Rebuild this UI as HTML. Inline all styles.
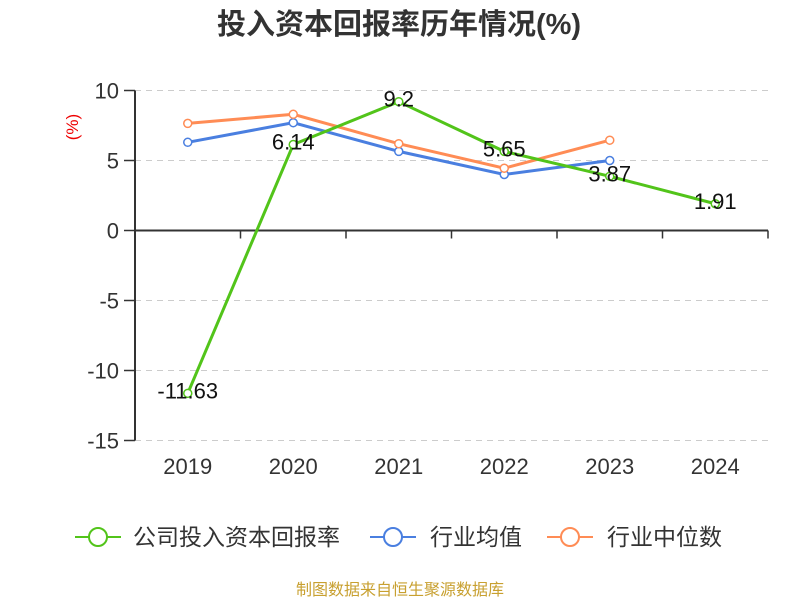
<!DOCTYPE html>
<html><head><meta charset="utf-8"><style>
body{margin:0;background:#fff;}
svg{display:block;font-family:"Liberation Sans","Noto Sans CJK SC",sans-serif;}
</style></head><body>
<svg id="c" width="800" height="600">
<text x="399" y="34" text-anchor="middle" font-size="29" font-weight="bold" fill="#333">投入资本回报率历年情况(%)</text>
<text x="78" y="127" text-anchor="middle" font-size="17" fill="#e00" transform="rotate(-90 78 127)">(%)</text>
<g id="grid"></g><g id="axes"></g><g id="series"></g>
<g font-size="23" fill="#333">
<g><line x1="75" y1="537" x2="121" y2="537" stroke="#52c41a" stroke-width="2"/><circle cx="98" cy="537" r="9" fill="#fff" stroke="#52c41a" stroke-width="2"/><text x="133" y="545">公司投入资本回报率</text></g>
<g><line x1="370" y1="537" x2="416" y2="537" stroke="#4a7fe0" stroke-width="2"/><circle cx="393" cy="537" r="9" fill="#fff" stroke="#4a7fe0" stroke-width="2"/><text x="430" y="545">行业均值</text></g>
<g><line x1="547" y1="537" x2="593" y2="537" stroke="#ff8c55" stroke-width="2"/><circle cx="570" cy="537" r="9" fill="#fff" stroke="#ff8c55" stroke-width="2"/><text x="607" y="545">行业中位数</text></g>
</g>
<text x="400" y="595" text-anchor="middle" font-size="16" fill="#c8a030">制图数据来自恒生聚源数据库</text>
</svg>
<script>
const categories=["2019","2020","2021","2022","2023","2024"];
const companyValues=[-11.63,6.14,9.2,5.65,3.87,1.91];
const meanValues=[6.3,7.7,5.65,4.0,5.0,null];
const medianValues=[7.65,8.3,6.2,4.45,6.45,null];
const yTicks=[10,5,0,-5,-10,-15];
const NS="http://www.w3.org/2000/svg";
const L=135,R=768,T=90.5,B=440.5,yMax=10,yMin=-15;
const bw=(R-L)/categories.length;
const x=i=>L+bw*(i+0.5);
const y=v=>T+(yMax-v)/(yMax-yMin)*(B-T);
function mk(p,tag,a){const e=document.createElementNS(NS,tag);for(const k in a)e.setAttribute(k,a[k]);p.appendChild(e);return e;}
const grid=document.getElementById('grid'),axes=document.getElementById('axes'),ser=document.getElementById('series');
yTicks.forEach(t=>{
 if(t!==0){const g=mk(grid,'line',{x1:L,x2:R,y1:y(t),y2:y(t),stroke:'#ccc','stroke-dasharray':'6,5'});
 
 }
 const tk=mk(axes,'line',{x1:L-11,x2:L,y1:y(t),y2:y(t),stroke:'#333','stroke-width':1.5});
 
 
 const tx=mk(axes,'text',{x:L-16,y:y(t)+8,'text-anchor':'end','font-size':22,fill:'#333'});tx.textContent=t;
 
 
});
const ya=mk(axes,'line',{x1:L,x2:L,y1:T,y2:B,stroke:'#333','stroke-width':2});


const xa=mk(axes,'line',{x1:L,x2:R,y1:y(0),y2:y(0),stroke:'#333','stroke-width':2});


for(let i=0;i<=categories.length;i++){const tk=mk(axes,'line',{x1:L+bw*i,x2:L+bw*i,y1:y(0),y2:y(0)+8,stroke:'#333','stroke-width':1.5});
 
 }
categories.forEach((c,i)=>{const t=mk(axes,'text',{x:x(i),y:474,'text-anchor':'middle','font-size':22,fill:'#333'});t.textContent=c;
 
 });
function line(vals,color,name,labels){
 const g=mk(ser,'g',{});
 
 
 const pts=vals.map((v,i)=>v==null?null:[x(i),y(v)]).filter(p=>p);
 mk(g,'polyline',{points:pts.map(p=>p.join(',')).join(' '),fill:'none',stroke:color,'stroke-width':3});
 vals.forEach((v,i)=>{if(v==null)return;
  const c=mk(g,'circle',{cx:x(i),cy:y(v),r:4,fill:'#fff',stroke:color,'stroke-width':1.5});
  
  
  if(labels){const t=mk(g,'text',{x:x(i),y:y(v)+5,'text-anchor':'middle','font-size':22,fill:'#111'});t.textContent=v;
   
   }
 });
}
line(meanValues,'#4a7fe0','industry-mean-line',false);
line(medianValues,'#ff8c55','industry-median-line',false);
line(companyValues,'#52c41a','company-line',true);
</script>
</body></html>
